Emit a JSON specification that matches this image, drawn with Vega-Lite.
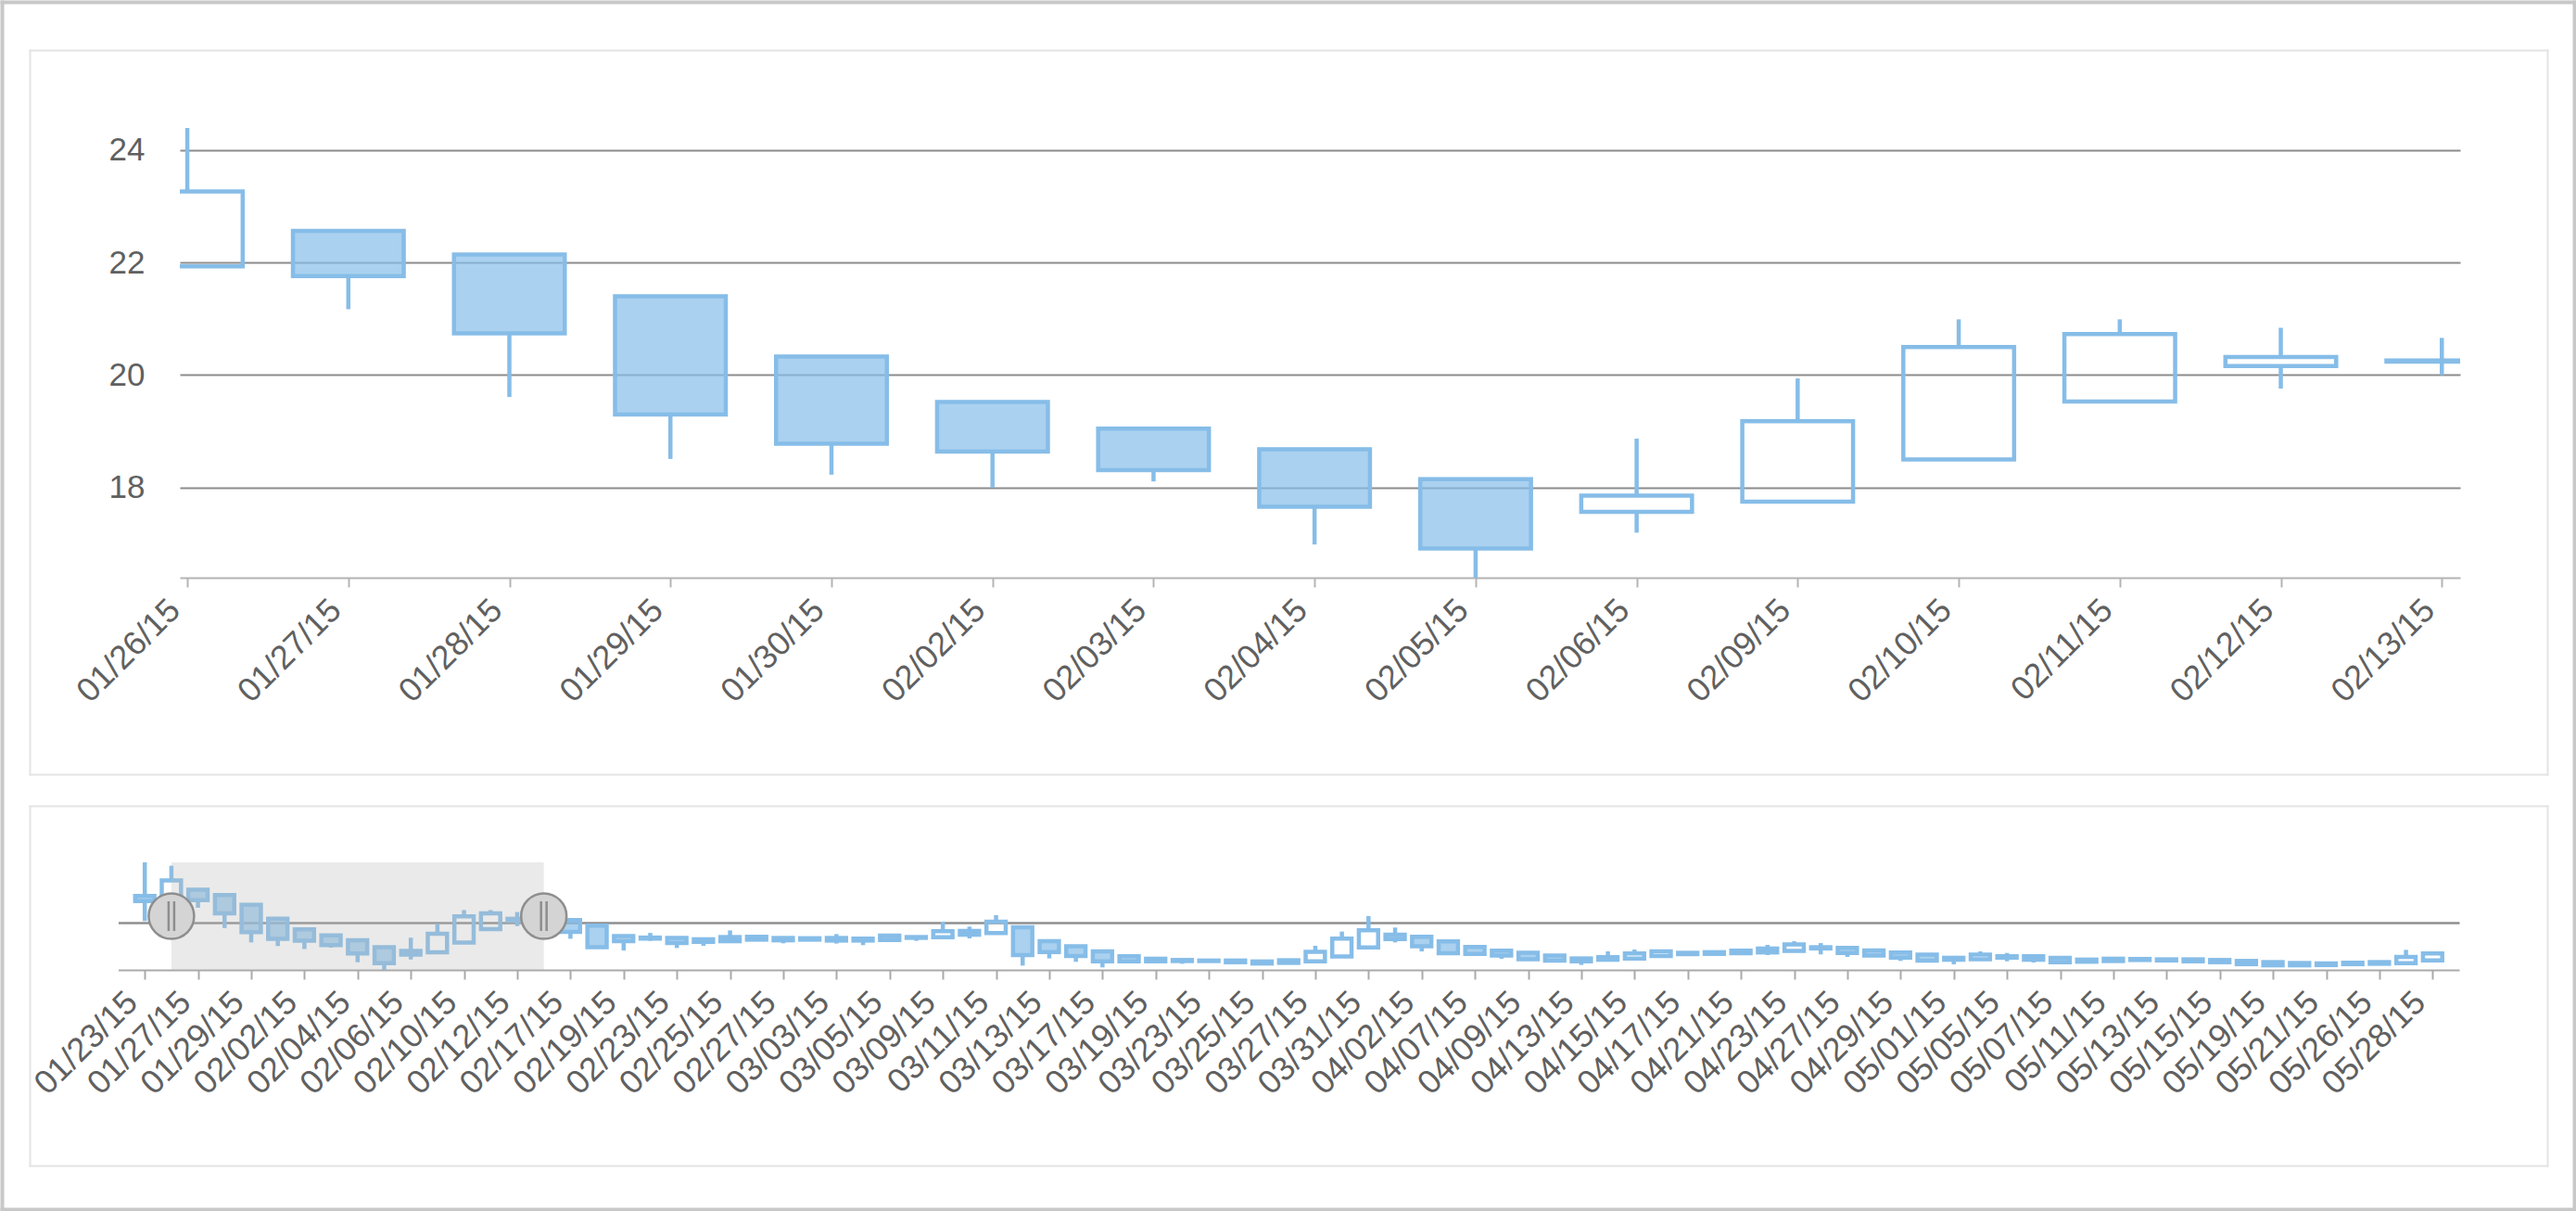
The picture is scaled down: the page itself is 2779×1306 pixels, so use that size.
{
  "$schema": "https://vega.github.io/schema/vega-lite/v6.json",
  "width": 2460,
  "height": 485,
  "padding": {"left": 194, "top": 138, "right": 125, "bottom": 683},
  "autosize": {"type": "none"},
  "background": "white",
  "config": {
    "view": {"stroke": null},
    "font": "Liberation Sans",
    "axis": {"labelFont": "Liberation Sans", "titleFont": "Liberation Sans"}
  },
  "datasets": {
    "prices": [
      {"date": "01/23/15", "open": 22.07, "high": 24.65, "low": 20.15, "close": 21.68},
      {"date": "01/26/15", "open": 21.93, "high": 24.39, "low": 21.93, "close": 23.26},
      {"date": "01/27/15", "open": 22.56, "high": 22.56, "low": 21.17, "close": 21.76},
      {"date": "01/28/15", "open": 22.14, "high": 22.14, "low": 19.61, "close": 20.74},
      {"date": "01/29/15", "open": 21.40, "high": 21.40, "low": 18.51, "close": 19.30},
      {"date": "01/30/15", "open": 20.33, "high": 20.33, "low": 18.23, "close": 18.78},
      {"date": "02/02/15", "open": 19.52, "high": 19.52, "low": 18.00, "close": 18.64},
      {"date": "02/03/15", "open": 19.05, "high": 19.05, "low": 18.11, "close": 18.31},
      {"date": "02/04/15", "open": 18.68, "high": 18.68, "low": 16.99, "close": 17.66},
      {"date": "02/05/15", "open": 18.15, "high": 18.15, "low": 16.40, "close": 16.92},
      {"date": "02/06/15", "open": 17.57, "high": 18.87, "low": 17.20, "close": 17.86},
      {"date": "02/09/15", "open": 17.75, "high": 19.94, "low": 17.75, "close": 19.18},
      {"date": "02/10/15", "open": 18.50, "high": 20.99, "low": 18.50, "close": 20.50},
      {"date": "02/11/15", "open": 19.53, "high": 20.99, "low": 19.53, "close": 20.73},
      {"date": "02/12/15", "open": 20.16, "high": 20.84, "low": 19.76, "close": 20.32},
      {"date": "02/13/15", "open": 20.24, "high": 20.66, "low": 20.00, "close": 20.26},
      {"date": "02/17/15", "open": 20.22, "high": 20.22, "low": 18.79, "close": 19.31},
      {"date": "02/18/15", "open": 19.80, "high": 19.80, "low": 18.10, "close": 18.15},
      {"date": "02/19/15", "open": 18.99, "high": 19.05, "low": 17.89, "close": 18.60},
      {"date": "02/20/15", "open": 18.88, "high": 19.24, "low": 18.63, "close": 18.80},
      {"date": "02/23/15", "open": 18.85, "high": 18.85, "low": 18.08, "close": 18.46},
      {"date": "02/24/15", "open": 18.75, "high": 18.75, "low": 18.25, "close": 18.55},
      {"date": "02/25/15", "open": 18.92, "high": 19.43, "low": 18.60, "close": 18.60},
      {"date": "02/26/15", "open": 18.94, "high": 19.00, "low": 18.72, "close": 18.72},
      {"date": "02/27/15", "open": 18.85, "high": 18.90, "low": 18.44, "close": 18.67},
      {"date": "03/02/15", "open": 18.83, "high": 18.88, "low": 18.68, "close": 18.72},
      {"date": "03/03/15", "open": 18.85, "high": 19.15, "low": 18.42, "close": 18.65},
      {"date": "03/04/15", "open": 18.80, "high": 18.90, "low": 18.30, "close": 18.65},
      {"date": "03/05/15", "open": 19.04, "high": 19.04, "low": 18.69, "close": 18.69},
      {"date": "03/06/15", "open": 18.92, "high": 18.95, "low": 18.63, "close": 18.86},
      {"date": "03/09/15", "open": 18.91, "high": 20.10, "low": 18.91, "close": 19.37},
      {"date": "03/10/15", "open": 19.39, "high": 19.72, "low": 18.82, "close": 19.10},
      {"date": "03/11/15", "open": 19.22, "high": 20.60, "low": 19.22, "close": 20.10},
      {"date": "03/12/15", "open": 19.68, "high": 19.68, "low": 16.73, "close": 17.53},
      {"date": "03/13/15", "open": 18.61, "high": 18.61, "low": 17.28, "close": 17.77},
      {"date": "03/16/15", "open": 18.21, "high": 18.21, "low": 17.02, "close": 17.46},
      {"date": "03/17/15", "open": 17.83, "high": 17.83, "low": 16.59, "close": 17.06},
      {"date": "03/18/15", "open": 17.45, "high": 17.45, "low": 16.95, "close": 17.06},
      {"date": "03/19/15", "open": 17.26, "high": 17.26, "low": 17.02, "close": 17.06},
      {"date": "03/20/15", "open": 17.16, "high": 17.16, "low": 16.87, "close": 17.08},
      {"date": "03/23/15", "open": 17.12, "high": 17.14, "low": 17.04, "close": 17.08},
      {"date": "03/24/15", "open": 17.12, "high": 17.12, "low": 16.94, "close": 16.99},
      {"date": "03/25/15", "open": 17.05, "high": 17.05, "low": 16.86, "close": 16.89},
      {"date": "03/26/15", "open": 17.14, "high": 17.14, "low": 16.94, "close": 16.94},
      {"date": "03/27/15", "open": 17.06, "high": 18.25, "low": 17.06, "close": 17.78},
      {"date": "03/30/15", "open": 17.44, "high": 19.34, "low": 17.44, "close": 18.80},
      {"date": "03/31/15", "open": 18.12, "high": 20.53, "low": 18.12, "close": 19.44},
      {"date": "04/01/15", "open": 19.11, "high": 19.65, "low": 18.51, "close": 18.77},
      {"date": "04/02/15", "open": 18.94, "high": 18.94, "low": 17.82, "close": 18.22},
      {"date": "04/06/15", "open": 18.59, "high": 18.59, "low": 17.63, "close": 17.68},
      {"date": "04/07/15", "open": 18.16, "high": 18.16, "low": 17.60, "close": 17.63},
      {"date": "04/08/15", "open": 17.87, "high": 17.87, "low": 17.25, "close": 17.50},
      {"date": "04/09/15", "open": 17.71, "high": 17.71, "low": 17.20, "close": 17.22},
      {"date": "04/10/15", "open": 17.50, "high": 17.50, "low": 17.11, "close": 17.11},
      {"date": "04/13/15", "open": 17.28, "high": 17.28, "low": 16.78, "close": 17.06},
      {"date": "04/14/15", "open": 17.18, "high": 17.82, "low": 17.18, "close": 17.38},
      {"date": "04/15/15", "open": 17.27, "high": 17.96, "low": 17.27, "close": 17.66},
      {"date": "04/16/15", "open": 17.46, "high": 17.83, "low": 17.46, "close": 17.83},
      {"date": "04/17/15", "open": 17.71, "high": 17.71, "low": 17.61, "close": 17.61},
      {"date": "04/20/15", "open": 17.63, "high": 17.80, "low": 17.63, "close": 17.76},
      {"date": "04/21/15", "open": 17.68, "high": 17.88, "low": 17.68, "close": 17.88},
      {"date": "04/22/15", "open": 17.74, "high": 18.32, "low": 17.54, "close": 18.04},
      {"date": "04/23/15", "open": 17.86, "high": 18.60, "low": 17.86, "close": 18.35},
      {"date": "04/24/15", "open": 18.14, "high": 18.46, "low": 17.59, "close": 18.05},
      {"date": "04/27/15", "open": 18.09, "high": 18.09, "low": 17.40, "close": 17.70},
      {"date": "04/28/15", "open": 17.90, "high": 17.90, "low": 17.48, "close": 17.51},
      {"date": "04/29/15", "open": 17.73, "high": 17.73, "low": 17.09, "close": 17.34},
      {"date": "04/30/15", "open": 17.57, "high": 17.57, "low": 17.11, "close": 17.11},
      {"date": "05/01/15", "open": 17.33, "high": 17.33, "low": 16.83, "close": 17.18},
      {"date": "05/04/15", "open": 17.22, "high": 17.82, "low": 17.22, "close": 17.57},
      {"date": "05/05/15", "open": 17.45, "high": 17.70, "low": 17.06, "close": 17.34},
      {"date": "05/06/15", "open": 17.45, "high": 17.45, "low": 16.97, "close": 17.18},
      {"date": "05/07/15", "open": 17.33, "high": 17.33, "low": 16.99, "close": 16.99},
      {"date": "05/08/15", "open": 17.19, "high": 17.19, "low": 17.00, "close": 17.03},
      {"date": "05/11/15", "open": 17.26, "high": 17.26, "low": 17.08, "close": 17.08},
      {"date": "05/12/15", "open": 17.24, "high": 17.24, "low": 17.16, "close": 17.16},
      {"date": "05/13/15", "open": 17.21, "high": 17.21, "low": 17.13, "close": 17.13},
      {"date": "05/14/15", "open": 17.21, "high": 17.21, "low": 17.06, "close": 17.06},
      {"date": "05/15/15", "open": 17.16, "high": 17.16, "low": 16.99, "close": 16.99},
      {"date": "05/18/15", "open": 17.09, "high": 17.09, "low": 16.84, "close": 16.84},
      {"date": "05/19/15", "open": 17.00, "high": 17.00, "low": 16.70, "close": 16.75},
      {"date": "05/20/15", "open": 16.93, "high": 16.93, "low": 16.75, "close": 16.75},
      {"date": "05/21/15", "open": 16.90, "high": 16.90, "low": 16.77, "close": 16.77},
      {"date": "05/22/15", "open": 16.84, "high": 16.95, "low": 16.84, "close": 16.95},
      {"date": "05/26/15", "open": 16.87, "high": 17.00, "low": 16.87, "close": 17.00},
      {"date": "05/27/15", "open": 16.92, "high": 17.94, "low": 16.92, "close": 17.40},
      {"date": "05/28/15", "open": 17.13, "high": 17.66, "low": 17.13, "close": 17.66}
    ],
    "window": [{"from": "01/26/15", "to": "02/13/15"}]
  },
  "resolve": {
    "scale": {"x": "independent", "y": "independent"},
    "axis": {"x": "independent", "y": "independent"}
  },
  "layer": [
    {
      "data": {"name": "prices"},
      "transform": [
        {"filter": {"field": "date", "oneOf": ["01/26/15", "01/27/15", "01/28/15", "01/29/15", "01/30/15", "02/02/15", "02/03/15", "02/04/15", "02/05/15", "02/06/15", "02/09/15", "02/10/15", "02/11/15", "02/12/15", "02/13/15"]}}
      ],
      "encoding": {
        "x": {
          "field": "date", "type": "ordinal",
          "scale": {"type": "point", "padding": 0.08, "align": 0.29},
          "axis": {
            "orient": "bottom", "title": null, "grid": false,
            "labelAngle": -45, "labelAlign": "right", "labelBaseline": "middle",
            "labelOffset": -14, "labelPadding": 19,
            "labelFontSize": 36, "labelColor": "#606060",
            "domainColor": "#b4b4b4", "domainWidth": 2,
            "tickColor": "#b4b4b4", "tickWidth": 2, "tickSize": 10
          }
        }
      },
      "layer": [
        {
          "transform": [{"filter": "datum.close < datum.open"}],
          "mark": {"type": "rule", "clip": true, "strokeWidth": 4.5, "color": "#86bde8"},
          "encoding": {
            "y": {
              "field": "high", "type": "quantitative",
              "scale": {"zero": false, "nice": false},
              "axis": {
                "orient": "left", "title": null, "values": [18, 20, 22, 24], "format": "d",
                "grid": true, "gridColor": "#8c8c8c", "gridWidth": 2,
                "domain": false, "ticks": false,
                "labelFontSize": 35, "labelColor": "#606060", "labelPadding": 38
              }
            },
            "y2": {"field": "open"}
          }
        },
        {
          "transform": [{"filter": "datum.close < datum.open"}],
          "mark": {"type": "rule", "clip": true, "strokeWidth": 4.5, "color": "#86bde8"},
          "encoding": {
            "y": {"field": "close", "type": "quantitative"},
            "y2": {"field": "low"}
          }
        },
        {
          "transform": [{"filter": "datum.close >= datum.open"}],
          "mark": {"type": "rule", "clip": true, "strokeWidth": 4.5, "color": "#86bde8"},
          "encoding": {
            "y": {"field": "high", "type": "quantitative"},
            "y2": {"field": "close"}
          }
        },
        {
          "transform": [{"filter": "datum.close >= datum.open"}],
          "mark": {"type": "rule", "clip": true, "strokeWidth": 4.5, "color": "#86bde8"},
          "encoding": {
            "y": {"field": "open", "type": "quantitative"},
            "y2": {"field": "low"}
          }
        },
        {
          "mark": {"type": "bar", "clip": true, "width": 119.5, "stroke": "#86bde8", "strokeWidth": 4.5, "fillOpacity": 0.7},
          "encoding": {
            "y": {"field": "open", "type": "quantitative"},
            "y2": {"field": "close"},
            "fill": {"condition": {"test": "datum.close < datum.open", "value": "#86bde8"}, "value": "transparent"}
          }
        }
      ]
    },
    {
      "layer": [
        {
          "data": {"name": "prices"},
          "layer": [
            {
              "transform": [{"filter": "datum.close < datum.open"}],
              "mark": {"type": "rule", "clip": false, "strokeWidth": 4.5, "color": "#86bde8"},
              "encoding": {
                "x": {
                  "field": "date", "type": "ordinal",
                  "scale": {"type": "point", "padding": 1, "range": [-66.5, 2459]},
                  "axis": {
                    "orient": "bottom", "offset": 423, "title": null, "grid": false,
                    "values": ["01/23/15", "01/27/15", "01/29/15", "02/02/15", "02/04/15", "02/06/15", "02/10/15", "02/12/15", "02/17/15", "02/19/15", "02/23/15", "02/25/15", "02/27/15", "03/03/15", "03/05/15", "03/09/15", "03/11/15", "03/13/15", "03/17/15", "03/19/15", "03/23/15", "03/25/15", "03/27/15", "03/31/15", "04/02/15", "04/07/15", "04/09/15", "04/13/15", "04/15/15", "04/17/15", "04/21/15", "04/23/15", "04/27/15", "04/29/15", "05/01/15", "05/05/15", "05/07/15", "05/11/15", "05/13/15", "05/15/15", "05/19/15", "05/21/15", "05/26/15", "05/28/15"],
                    "labelOverlap": false,
                    "labelAngle": -45, "labelAlign": "right", "labelBaseline": "middle",
                    "labelOffset": -14, "labelPadding": 19,
                    "labelFontSize": 36, "labelColor": "#606060",
                    "domainColor": "#aaaaaa", "domainWidth": 2,
                    "tickColor": "#aaaaaa", "tickWidth": 2, "tickSize": 10
                  }
                },
                "y": {
                  "field": "high", "type": "quantitative",
                  "scale": {"zero": false, "nice": false, "range": [908, 792]},
                  "axis": {
                    "orient": "left", "title": null, "values": [20],
                    "grid": true, "gridColor": "#8f8f8f", "gridWidth": 2.5,
                    "labels": false, "ticks": false, "domain": false
                  }
                },
                "y2": {"field": "open"}
              }
            },
            {
              "transform": [{"filter": "datum.close < datum.open"}],
              "mark": {"type": "rule", "clip": false, "strokeWidth": 4.5, "color": "#86bde8"},
              "encoding": {
                "x": {"field": "date", "type": "ordinal"},
                "y": {"field": "close", "type": "quantitative"},
                "y2": {"field": "low"}
              }
            },
            {
              "transform": [{"filter": "datum.close >= datum.open"}],
              "mark": {"type": "rule", "clip": false, "strokeWidth": 4.5, "color": "#86bde8"},
              "encoding": {
                "x": {"field": "date", "type": "ordinal"},
                "y": {"field": "high", "type": "quantitative"},
                "y2": {"field": "close"}
              }
            },
            {
              "transform": [{"filter": "datum.close >= datum.open"}],
              "mark": {"type": "rule", "clip": false, "strokeWidth": 4.5, "color": "#86bde8"},
              "encoding": {
                "x": {"field": "date", "type": "ordinal"},
                "y": {"field": "open", "type": "quantitative"},
                "y2": {"field": "low"}
              }
            },
            {
              "mark": {"type": "bar", "clip": false, "width": 20.8, "stroke": "#86bde8", "strokeWidth": 4.5, "fillOpacity": 0.7},
              "encoding": {
                "x": {"field": "date", "type": "ordinal"},
                "y": {"field": "open", "type": "quantitative"},
                "y2": {"field": "close"},
                "fill": {"condition": {"test": "datum.close < datum.open", "value": "#86bde8"}, "value": "transparent"}
              }
            }
          ]
        },
        {
          "data": {"name": "window"},
          "mark": {"type": "rect", "clip": false, "color": "#bbbbbb", "opacity": 0.3},
          "encoding": {
            "x": {"field": "from", "type": "ordinal"},
            "x2": {"field": "to"},
            "y": {"datum": 16.40, "type": "quantitative"},
            "y2": {"datum": 24.65}
          }
        },
        {
          "data": {"name": "window"},
          "transform": [{"fold": ["from", "to"], "as": ["edge", "at"]}],
          "layer": [
            {
              "mark": {"type": "point", "shape": "circle", "filled": true, "clip": false, "size": 2400, "fill": "#d4d4d4", "stroke": "#8e8e8e", "strokeWidth": 2.5, "opacity": 1},
              "encoding": {
                "x": {"field": "at", "type": "ordinal"},
                "y": {"datum": 20.525, "type": "quantitative"}
              }
            },
            {
              "mark": {"type": "tick", "orient": "vertical", "clip": false, "size": 32, "thickness": 2.5, "color": "#8e8e8e", "opacity": 1, "xOffset": -3},
              "encoding": {
                "x": {"field": "at", "type": "ordinal"},
                "y": {"datum": 20.525, "type": "quantitative"}
              }
            },
            {
              "mark": {"type": "tick", "orient": "vertical", "clip": false, "size": 32, "thickness": 2.5, "color": "#8e8e8e", "opacity": 1, "xOffset": 3},
              "encoding": {
                "x": {"field": "at", "type": "ordinal"},
                "y": {"datum": 20.525, "type": "quantitative"}
              }
            }
          ]
        }
      ]
    },
    {
      "data": {"values": []},
      "mark": {"type": "point", "opacity": 0},
      "encoding": {
        "x": {
          "field": "u", "type": "quantitative",
          "scale": {"domain": [0, 1], "range": [-192, 2583], "nice": false, "zero": false},
          "axis": {"orient": "top", "values": [0, 1], "grid": true, "gridColor": "#c8c8c8", "gridWidth": 4, "gridCap": "square", "labels": false, "ticks": false, "domain": false, "title": null}
        },
        "y": {
          "field": "v", "type": "quantitative",
          "scale": {"domain": [0, 1], "range": [1166, -136], "nice": false, "zero": false},
          "axis": {"orient": "left", "values": [0, 1], "grid": true, "gridColor": "#c8c8c8", "gridWidth": 4, "gridCap": "square", "labels": false, "ticks": false, "domain": false, "title": null}
        }
      }
    },
    {
      "data": {"values": []},
      "mark": {"type": "point", "opacity": 0},
      "encoding": {
        "x": {
          "field": "u", "type": "quantitative",
          "scale": {"domain": [0, 1], "range": [-162, 2554], "nice": false, "zero": false},
          "axis": {"orient": "top", "values": [0, 1], "grid": true, "gridColor": "#e4e4e4", "gridWidth": 2, "gridCap": "square", "labels": false, "ticks": false, "domain": false, "title": null}
        },
        "y": {
          "field": "v", "type": "quantitative",
          "scale": {"domain": [0, 1], "range": [697, -84], "nice": false, "zero": false},
          "axis": {"orient": "left", "values": [0, 1], "grid": true, "gridColor": "#e4e4e4", "gridWidth": 2, "gridCap": "square", "labels": false, "ticks": false, "domain": false, "title": null}
        }
      }
    },
    {
      "data": {"values": []},
      "mark": {"type": "point", "opacity": 0},
      "encoding": {
        "x": {
          "field": "u", "type": "quantitative",
          "scale": {"domain": [0, 1], "range": [-162, 2554], "nice": false, "zero": false},
          "axis": {"orient": "top", "values": [0, 1], "grid": true, "gridColor": "#e4e4e4", "gridWidth": 2, "gridCap": "square", "labels": false, "ticks": false, "domain": false, "title": null}
        },
        "y": {
          "field": "v", "type": "quantitative",
          "scale": {"domain": [0, 1], "range": [1119, 731], "nice": false, "zero": false},
          "axis": {"orient": "left", "values": [0, 1], "grid": true, "gridColor": "#e4e4e4", "gridWidth": 2, "gridCap": "square", "labels": false, "ticks": false, "domain": false, "title": null}
        }
      }
    }
  ]
}
